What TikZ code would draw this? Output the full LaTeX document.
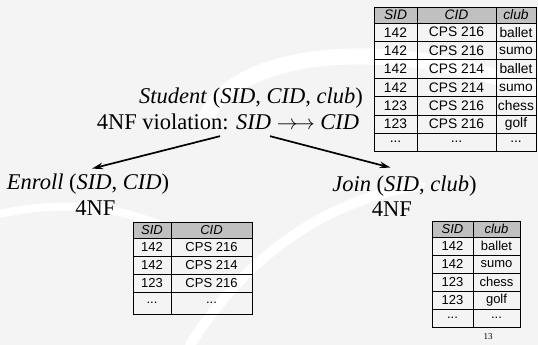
\documentclass[tikz,border=0pt]{standalone}
\usepackage{fontspec}
\setmainfont{Liberation Serif}
\newfontfamily\tabfont{Liberation Sans}
\usetikzlibrary{arrows.meta,calc}

\definecolor{slidebg}{HTML}{F4F4F4}
\definecolor{headgray}{HTML}{C0C0C0}

\tikzset{
  x=1pt, y=-1pt,
  label text/.style={font=\fontsize{22.5}{24}\selectfont, inner sep=1pt},
  cell/.style={font=\tabfont\fontsize{13}{14}\selectfont, inner sep=0pt},
  hcell/.style={cell, font=\tabfont\itshape\fontsize{13}{14}\selectfont},
  bigcell/.style={cell, font=\tabfont\fontsize{13.8}{15}\selectfont},
  bighcell/.style={cell, font=\tabfont\itshape\fontsize{13.8}{15}\selectfont},
  grid line/.style={line width=0.8pt},
  link/.style={line width=1.7pt, -{Stealth[length=11pt,width=6.5pt]}},
  swoosh/.style={white, line cap=round}
}

\begin{document}
\begin{tikzpicture}
  % slide background with soft white sweeps
  \fill[slidebg] (0,0) rectangle (538,345);
  \useasboundingbox (0,0) rectangle (538,345);
  \draw[swoosh, line width=16pt] (205,120) .. controls (240,40) and (420,40) .. (545,95);
  \draw[swoosh, line width=10pt] (190,345) .. controls (250,250) and (330,200) .. (420,185);
  \draw[swoosh, line width=8pt] (-5,215) .. controls (60,200) and (120,205) .. (170,230);

  % ---------- top table: SID / CID / club ----------
  \fill[headgray] (374,7) rectangle (536,23);
  \foreach \yy in {23,41.4,59.8,78.2,96.6,115,133.4}
    \draw[grid line] (374,\yy) -- (536,\yy);
  \draw[grid line] (374,7) rectangle (536,151.8);
  \draw[grid line] (417,7) -- (417,151.8);
  \draw[grid line] (496,7) -- (496,151.8);
  \node[bighcell] (t1h1) at (395.5,15) {SID};
  \node[bighcell] (t1h2) at (456.5,15) {CID};
  \node[bighcell] (t1h3) at (516,15) {club};
  \foreach \r/\s/\c [count=\i] in {
      142/CPS 216/ballet, 142/CPS 216/sumo, 142/CPS 214/ballet,
      142/CPS 214/sumo, 123/CPS 216/chess, 123/CPS 216/golf}{
    \node[bigcell] (t1r\i a) at (395.5,{23+18.4*(\i-0.5)}) {\r};
    \node[bigcell] (t1r\i b) at (456.5,{23+18.4*(\i-0.5)}) {\s};
    \node[bigcell] (t1r\i c) at (516,{23+18.4*(\i-0.5)}) {\c};
  }
  \node[bigcell] (t1ea) at (395.5,141.6) {...};
  \node[bigcell] (t1eb) at (456.5,141.6) {...};
  \node[bigcell] (t1ec) at (516,141.6) {...};

  % ---------- headings ----------
  \node[label text] (student) at (251,98)
    {\textit{Student} (\textit{SID}, \textit{CID}, \textit{club})};
  \node[label text] (viol) at (228,122)
    {4NF violation: \textit{SID} $\rightarrow\!\rightarrow$ \textit{CID}};
  \node[label text] (enroll) at (88,184)
    {\textit{Enroll} (\textit{SID}, \textit{CID})};
  \node[label text] (enrollnf) at (95.5,208) {4NF};
  \node[label text] (join) at (404.5,186)
    {\textit{Join} (\textit{SID}, \textit{club})};
  \node[label text] (joinnf) at (392,209) {4NF};

  % ---------- decomposition arrows ----------
  \coordinate (split) at ([yshift=-5pt]viol.south);
  \draw[link] ([xshift=-8pt]viol.south |- split) -- ([shift={(4,-4)}]enroll.north);
  \draw[link] ([xshift=42pt]viol.south |- split) -- ([shift={(-14,-7)}]join.north);

  % ---------- Enroll table ----------
  \fill[headgray] (133,222) rectangle (252,238);
  \foreach \yy in {238,256,274,292}
    \draw[grid line] (133,\yy) -- (252,\yy);
  \draw[grid line] (133,222) rectangle (252,314);
  \draw[grid line] (171,222) -- (171,314);
  \node[hcell] (t2h1) at (152,230) {SID};
  \node[hcell] (t2h2) at (211.5,230) {CID};
  \foreach \r/\s [count=\i] in {142/CPS 216, 142/CPS 214, 123/CPS 216}{
    \node[cell] (t2r\i a) at (152,{238+18*(\i-0.5)}) {\r};
    \node[cell] (t2r\i b) at (211.5,{238+18*(\i-0.5)}) {\s};
  }
  \node[cell] (t2ea) at (152,303) {...};
  \node[cell] (t2eb) at (211.5,303) {...};

  % ---------- Join table ----------
  \fill[headgray] (432,221) rectangle (520,237);
  \foreach \yy in {237,255,273,291,309}
    \draw[grid line] (432,\yy) -- (520,\yy);
  \draw[grid line] (432,221) rectangle (520,327);
  \draw[grid line] (473,221) -- (473,327);
  \node[hcell] (t3h1) at (452.5,229) {SID};
  \node[hcell] (t3h2) at (496.5,229) {club};
  \foreach \r/\c [count=\i] in {142/ballet, 142/sumo, 123/chess, 123/golf}{
    \node[cell] (t3r\i a) at (452.5,{237+18*(\i-0.5)}) {\r};
    \node[cell] (t3r\i b) at (496.5,{237+18*(\i-0.5)}) {\c};
  }
  \node[cell] (t3ea) at (452.5,318) {...};
  \node[cell] (t3eb) at (496.5,318) {...};

  % page number
  \node[font=\fontsize{9}{10}\selectfont, inner sep=0pt] (pageno) at (488,337) {13};
\end{tikzpicture}
\end{document}
